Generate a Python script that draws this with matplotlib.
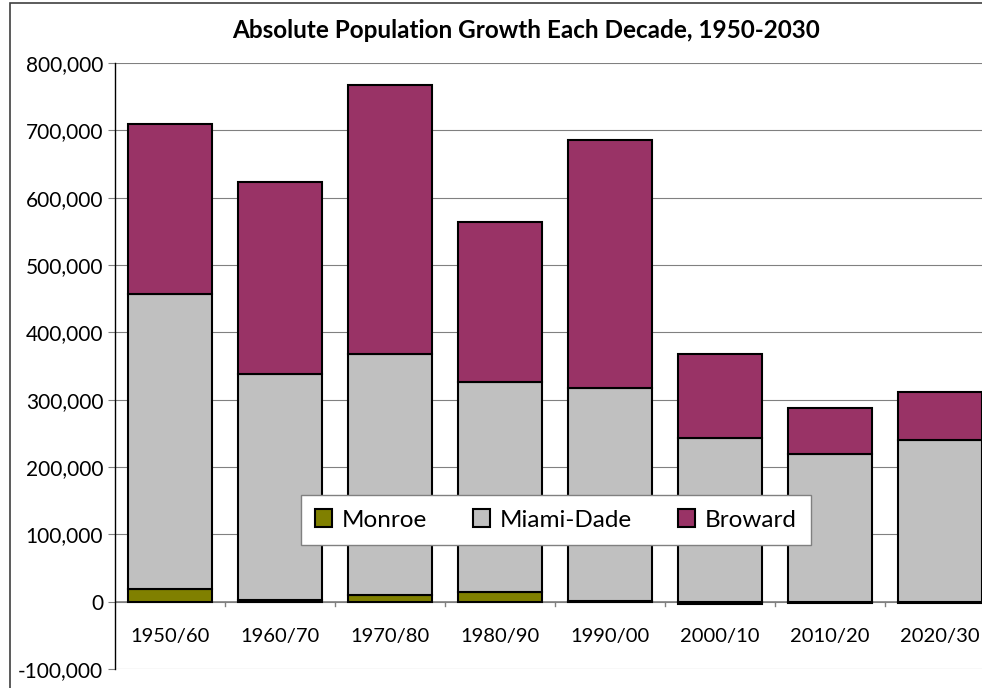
import matplotlib.pyplot as plt
import numpy as np
from matplotlib.patches import Rectangle
from matplotlib.ticker import FuncFormatter

plt.rcParams['font.family'] = ['Lato', 'DejaVu Sans']

# Данные
decades = ['1950/60', '1960/70', '1970/80', '1980/90', '1990/00', '2000/10', '2010/20', '2020/30']
monroe = [19000, 3000, 10000, 15000, 500, -4000, -2000, -2000]
miami_dade = [438000, 335000, 358000, 311000, 317000, 243000, 220000, 240000]
broward = [252000, 285000, 400000, 238000, 368000, 125000, 68000, 71000]

fig = plt.figure(figsize=(9.82, 6.88), dpi=100)
ax = fig.add_axes([115 / 982, 19 / 688, 880 / 982, 606 / 688])

x = np.arange(len(decades))
w = 0.76
mon = np.array(monroe)
md = np.array(miami_dade)
br = np.array(broward)
pos_base = np.clip(mon, 0, None)

ax.bar(x, mon, w, color='#808000', edgecolor='black', linewidth=1.5, label='Monroe', zorder=3)
ax.bar(x, md, w, bottom=pos_base, color='#C0C0C0', edgecolor='black', linewidth=1.5, label='Miami-Dade', zorder=3)
ax.bar(x, br, w, bottom=pos_base + md, color='#993366', edgecolor='black', linewidth=1.5, label='Broward', zorder=3)

ax.set_xlim(-0.5, len(decades) - 0.5)
ax.set_ylim(-100000, 800000)
ax.set_yticks(np.arange(-100000, 800001, 100000))
ax.yaxis.set_major_formatter(FuncFormatter(lambda v, p: f'{int(v):,}'))
ax.grid(axis='y', color='#808080', linewidth=0.8, zorder=0)

# ось X на нуле
for s in ['top', 'right', 'bottom']:
    ax.spines[s].set_visible(False)
ax.spines['left'].set_linewidth(1.0)
ax.axhline(0, color='#808080', linewidth=1.2, zorder=2)
ax.set_xticks([])
for i in range(len(decades)):
    ax.text(x[i], -52000, decades[i], ha='center', va='center', fontsize=14.5)
# засечки между категориями
for b in np.arange(0.5, len(decades) - 0.5, 1.0):
    ax.plot([b, b], [0, -6000], color='#808080', linewidth=1.0, zorder=2, clip_on=False)
ax.tick_params(axis='y', labelsize=15, length=5, direction='out', color='#808080')

fig.text(526 / 982, 1 - 30 / 688, 'Absolute Population Growth Each Decade, 1950-2030',
         fontsize=17.5, fontweight='bold', ha='center', va='center')

leg = ax.legend(loc='center', bbox_to_anchor=(556 / 982, 1 - 520 / 688),
                bbox_transform=fig.transFigure, ncol=3, fontsize=17.5,
                frameon=True, fancybox=False, edgecolor='#808080', framealpha=1,
                handlelength=0.7, handleheight=0.7, columnspacing=1.9,
                handletextpad=0.4, borderpad=0.6)
leg.get_frame().set_linewidth(1.0)
leg.set_zorder(5)

# рамка диаграммы
fig.patches.append(Rectangle((10 / 982, -0.01), 1.0, 1 - 3 / 688 + 0.01,
                             transform=fig.transFigure, fill=False,
                             edgecolor='#404040', linewidth=1.2))

plt.savefig('out.png', dpi=100)
